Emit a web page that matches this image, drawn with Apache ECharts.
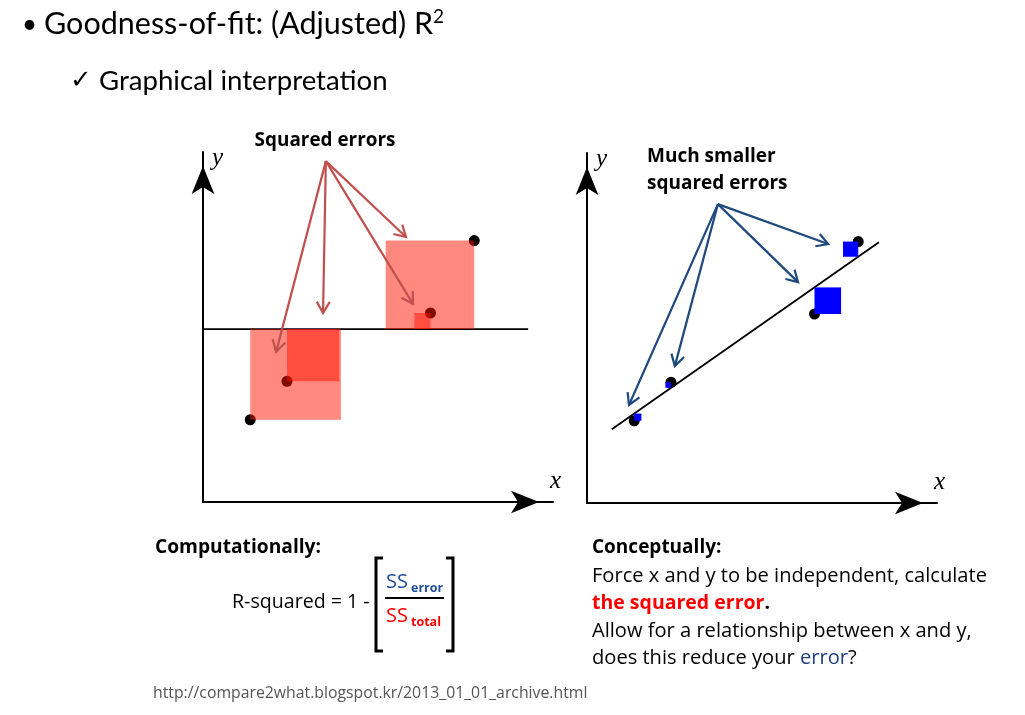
<!DOCTYPE html>
<html><head><meta charset="utf-8">
<script src="https://cdn.jsdelivr.net/npm/echarts@6/dist/echarts.min.js"></script>
<style>html,body{margin:0;padding:0;background:#fff}#c{width:1025px;height:715px}</style>
</head><body><div id="c"></div>
<script>
// ---- data (same four observations in both panels) ----
const pointX = [13.5, 24, 65, 77.5];
const pointY = [23.5, 34.5, 54, 74.7];
// left panel: flat line (x and y forced independent)
const flatLineY = 49.4;
const flatLineX = [0, 92.9];
// right panel: fitted regression line y = a + b x
const fitIntercept = 16.1;
const fitSlope = 0.70;
const fitLineX = [7.1, 83.4];
// annotation arrows (data units)
const leftArrowFrom = [35.1, 97.4];
const leftArrowTo = [[20.9, 42.9], [34.3, 54.0], [60, 56.6], [58, 75.7]];
const rightArrowFrom = [37.4, 85.4];
const rightArrowTo = [[12, 28], [25.1, 39.1], [60.3, 63.1], [68.9, 74]];

const TITLE = 'Lato, sans-serif';
const BODY = '"Open Sans", Lato, sans-serif';
const pts = pointX.map((x, i) => [x, pointY[i]]);
const leftSquares = pointX.map((x, i) => [x, pointY[i], flatLineY]);
const rightSquares = pointX.map((x, i) => [x, pointY[i], fitIntercept + fitSlope * x]);
const flatLine = flatLineX.map(x => [x, flatLineY]);
const fitLine = fitLineX.map(x => [x, fitIntercept + fitSlope * x]);
const leftArrows = leftArrowTo.map(t => [leftArrowFrom[0], leftArrowFrom[1], t[0], t[1]]);
const rightArrows = rightArrowTo.map(t => [rightArrowFrom[0], rightArrowFrom[1], t[0], t[1]]);

function axis(gridIndex, name, isY) {
  return {
    gridIndex, type: 'value', min: 0, max: 100, name,
    nameLocation: 'end', nameGap: isY ? -6 : -3,
    nameTextStyle: isY
      ? {fontFamily: '"Liberation Serif", serif', fontStyle: 'italic', fontSize: 25, color: '#000', align: 'left', verticalAlign: 'middle', padding: [0, 0, 0, 9]}
      : {fontFamily: '"Liberation Serif", serif', fontStyle: 'italic', fontSize: 25, color: '#000', align: 'left', verticalAlign: 'bottom', padding: [0, 0, 8, 0]},
    axisLine: {show: true, onZero: false, lineStyle: {color: '#000', width: 2},
      symbol: ['none', 'arrow'], symbolSize: [17, 28], symbolOffset: [0, -14]},
    axisTick: {show: false}, axisLabel: {show: false}, splitLine: {show: false}
  };
}
function squareItem(color) {
  return function (params, api) {
    const x = api.value(0), y = api.value(1), base = api.value(2);
    const side = Math.abs(y - base);
    const x2 = y < base ? x + side : x - side;
    const a = api.coord([x, y]), b = api.coord([x2, base]);
    return {type: 'rect', shape: {x: Math.min(a[0], b[0]), y: Math.min(a[1], b[1]),
      width: Math.abs(b[0] - a[0]), height: Math.abs(b[1] - a[1])}, style: {fill: color}};
  };
}
function arrowItem(color) {
  return function (params, api) {
    const p0 = api.coord([api.value(0), api.value(1)]);
    const p1 = api.coord([api.value(2), api.value(3)]);
    const ang = Math.atan2(p1[1] - p0[1], p1[0] - p0[0]);
    const L = 13, a = Math.PI / 6;
    const h1 = [p1[0] - L * Math.cos(ang - a), p1[1] - L * Math.sin(ang - a)];
    const h2 = [p1[0] - L * Math.cos(ang + a), p1[1] - L * Math.sin(ang + a)];
    return {type: 'group', children: [
      {type: 'line', shape: {x1: p0[0], y1: p0[1], x2: p1[0], y2: p1[1]}, style: {stroke: color, lineWidth: 2.2}},
      {type: 'polyline', shape: {points: [h1, p1, h2]}, style: {stroke: color, lineWidth: 2.2, fill: null}}
    ]};
  };
}
function txt(x, y, text, font, fill, align, extra) {
  return {type: 'text', x, y, style: Object.assign({text, font, fill: fill || '#000',
    textAlign: align || 'left', textVerticalAlign: 'middle', align: align || 'left', verticalAlign: 'middle'}, extra || {})};
}

const chart = echarts.init(document.getElementById('c'), null, {renderer: 'canvas'});
chart.setOption({
  animation: false,
  backgroundColor: '#fff',
  grid: [
    {left: 203, top: 152, width: 350, height: 350},
    {left: 587, top: 153, width: 350, height: 350}
  ],
  xAxis: [axis(0, 'x', false), axis(1, 'x', false)],
  yAxis: [axis(0, 'y', true), axis(1, 'y', true)],
  series: [
    {type: 'line', xAxisIndex: 0, yAxisIndex: 0, data: flatLine, symbol: 'none', lineStyle: {color: '#000', width: 1.6}, z: 2},
    {type: 'line', xAxisIndex: 1, yAxisIndex: 1, data: fitLine, symbol: 'none', lineStyle: {color: '#000', width: 1.8}, z: 2},
    {type: 'scatter', xAxisIndex: 0, yAxisIndex: 0, data: pts, symbolSize: 11, itemStyle: {color: '#000', opacity: 1}, z: 3},
    {type: 'scatter', xAxisIndex: 1, yAxisIndex: 1, data: pts, symbolSize: 11, itemStyle: {color: '#000', opacity: 1}, z: 3},
    {type: 'custom', xAxisIndex: 0, yAxisIndex: 0, data: leftSquares, renderItem: squareItem('rgba(255,20,0,0.5)'), z: 4, clip: false},
    {type: 'custom', xAxisIndex: 1, yAxisIndex: 1, data: rightSquares, renderItem: squareItem('#0000ff'), z: 4, clip: false},
    {type: 'custom', xAxisIndex: 0, yAxisIndex: 0, data: leftArrows, renderItem: arrowItem('#c0504d'), z: 5, clip: false},
    {type: 'custom', xAxisIndex: 1, yAxisIndex: 1, data: rightArrows, renderItem: arrowItem('#1f497d'), z: 5, clip: false}
  ],
  graphic: [
    txt(22, 25, '•', '26px ' + TITLE),
    txt(44, 24, 'Goodness-of-fit: (Adjusted) R', '30.5px ' + TITLE),
    txt(433, 17, '2', '19px ' + TITLE),
    txt(70, 81, '✓', 'bold 26px "DejaVu Sans"'),
    txt(99, 81, 'Graphical interpretation', '27.6px ' + TITLE),
    txt(325, 141, 'Squared errors', 'bold 18.9px ' + BODY, '#000', 'center'),
    txt(647, 157, 'Much smaller', 'bold 19px ' + BODY),
    txt(647, 184, 'squared errors', 'bold 19px ' + BODY),
    txt(155, 548, 'Computationally:', 'bold 19.2px ' + BODY),
    txt(232, 602, 'R-squared = 1 -', '19.6px ' + BODY),
    txt(386, 582, 'SS', '20px ' + BODY, '#1f4e9a'),
    txt(411, 588, 'error', 'bold 12.5px ' + BODY, '#1f4e9a'),
    txt(386, 616, 'SS', '20px ' + BODY, '#ff0000'),
    txt(411, 622, 'total', 'bold 12.5px ' + BODY, '#ff0000'),
    {type: 'polyline', shape: {points: [[383, 558], [376, 558], [376, 651], [383, 651]]}, style: {stroke: '#000', lineWidth: 3, fill: null}},
    {type: 'polyline', shape: {points: [[446, 558], [453, 558], [453, 651], [446, 651]]}, style: {stroke: '#000', lineWidth: 3, fill: null}},
    {type: 'line', shape: {x1: 385, y1: 598, x2: 444, y2: 598}, style: {stroke: '#000', lineWidth: 2}},
    txt(592, 548, 'Conceptually:', 'bold 19px ' + BODY),
    txt(592, 576, 'Force x and y to be independent, calculate', '20.1px ' + BODY),
    txt(592, 603, '{r|the squared error}{k|.}', 'bold 19.5px ' + BODY, '#000', 'left',
      {rich: {r: {fill: '#ff0000', font: 'bold 19.5px ' + BODY}, k: {fill: '#000', font: 'bold 19.5px ' + BODY}}}),
    txt(592, 631, 'Allow for a relationship between x and y,', '20.1px ' + BODY),
    txt(592, 658, '{k|does this reduce your }{b|error}{k|?}', '20.1px ' + BODY, '#000', 'left',
      {rich: {k: {fill: '#000', font: '20.1px ' + BODY}, b: {fill: '#1f3f80', font: '20.1px ' + BODY}}}),
    txt(153, 693, 'http://compare2what.blogspot.kr/2013_01_01_archive.html', '15.8px ' + BODY, '#555')
  ]
});
</script>
</body></html>
